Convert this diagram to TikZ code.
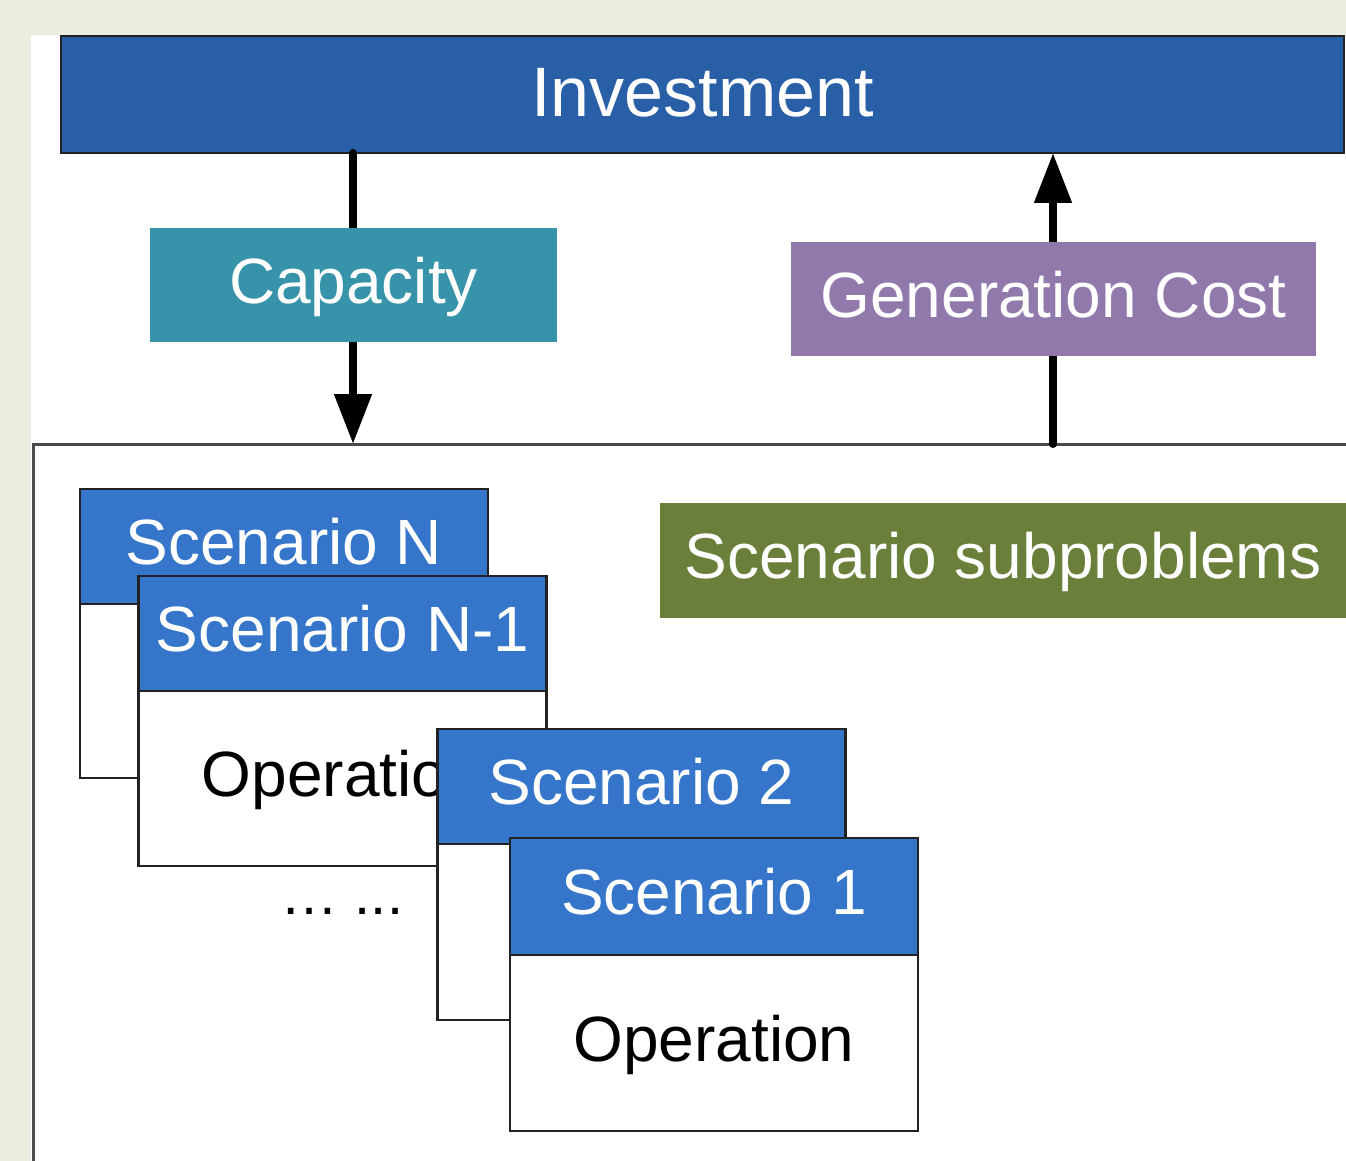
\documentclass[tikz,border=0pt]{standalone}
\usepackage{fontspec}
\setmainfont{Liberation Sans}
\usetikzlibrary{arrows.meta}
\definecolor{bgc}{HTML}{EAEEDE}
\definecolor{invc}{HTML}{285FA6}
\definecolor{capc}{HTML}{3793A9}
\definecolor{genc}{HTML}{9279AC}
\definecolor{subc}{HTML}{6A7F3A}
\definecolor{scenc}{HTML}{3576CB}
\definecolor{edgec}{HTML}{222222}
\definecolor{framec}{HTML}{4A4A4A}
\tikzset{
  lbl/.style={inner sep=0pt, outer sep=0pt, align=center, text=white,
    font=\fontsize{32}{38}\selectfont, minimum height=57.5pt,
    text height=23pt, text depth=5pt},
  header/.style={lbl, fill=scenc, draw=edgec, line width=1.3pt, minimum width=204pt},
  body/.style={inner sep=0pt, outer sep=0pt, fill=white, draw=edgec, line width=1.3pt,
    minimum width=204pt, minimum height=87.5pt, text=black,
    text height=23pt, text depth=5pt,
    font=\fontsize{32}{38}\selectfont},
  arr/.style={line width=4pt, line cap=round, -{Triangle[width=18pt,length=25pt]}},
  framestyle/.style={draw=framec, line width=1.5pt}
}
\begin{document}
\begin{tikzpicture}[x=0.5pt,y=-0.5pt]
\useasboundingbox (0,0) rectangle (1346,1161);
\fill[bgc] (0,0) rectangle (1346,1161);
\fill[white] (31,35) rectangle (1346,1161);

% frame of the lower region
\coordinate (fTR) at (1346,444);
\coordinate (fTL) at (33,444);
\coordinate (fBL) at (33,1161);
\coordinate (fA) at (353,444);
\coordinate (fB) at (1053,444);
\draw[framestyle] (fTR) -- (fTL) -- (fBL);

% investment
\node[lbl, fill=invc, draw=edgec, line width=1.2pt, minimum width=641.5pt, minimum height=58.5pt,
  font=\fontsize{35}{42}\selectfont, text height=25pt, text depth=3pt] (inv) at (702.5,94.5) {Investment};

% arrows
\draw[arr] (inv.south -| fA) -- (fA);
\draw[arr] (fB) -- (inv.south -| fB);

% labels on the arrows
\node[lbl, fill=capc, minimum width=203.5pt, minimum height=57pt] (cap) at (353.5,285) {Capacity};
\node[lbl, fill=genc, minimum width=262.5pt, minimum height=57pt] (gen) at (1053.5,299) {Generation Cost};
\node[lbl, fill=subc, minimum width=343pt, minimum height=57.5pt] (sub) at (1003,560.5) {Scenario subproblems};

% Scenario N
\node[body, minimum height=87pt] (bN) at (284,691) {};
\node[header] (hN) at (284,546.5) {Scenario N};
% Scenario N-1
\node[body] (bN1) at (342.5,778.5) {Operation};
\node[header] (hN1) at (342.5,633.5) {Scenario N-1};
% ellipsis
\node[inner sep=0pt, font=\fontsize{29}{34}\selectfont] (dots) at (342,911) {… ...};
% Scenario 2
\node[body, minimum height=88pt] (b2) at (641.5,932) {};
\node[header] (h2) at (641.5,786.5) {Scenario 2};
% Scenario 1
\node[body, minimum height=88pt] (b1) at (714,1043) {Operation};
\node[header, minimum height=58.5pt] (h1) at (714,896.5) {Scenario 1};
\end{tikzpicture}
\end{document}
